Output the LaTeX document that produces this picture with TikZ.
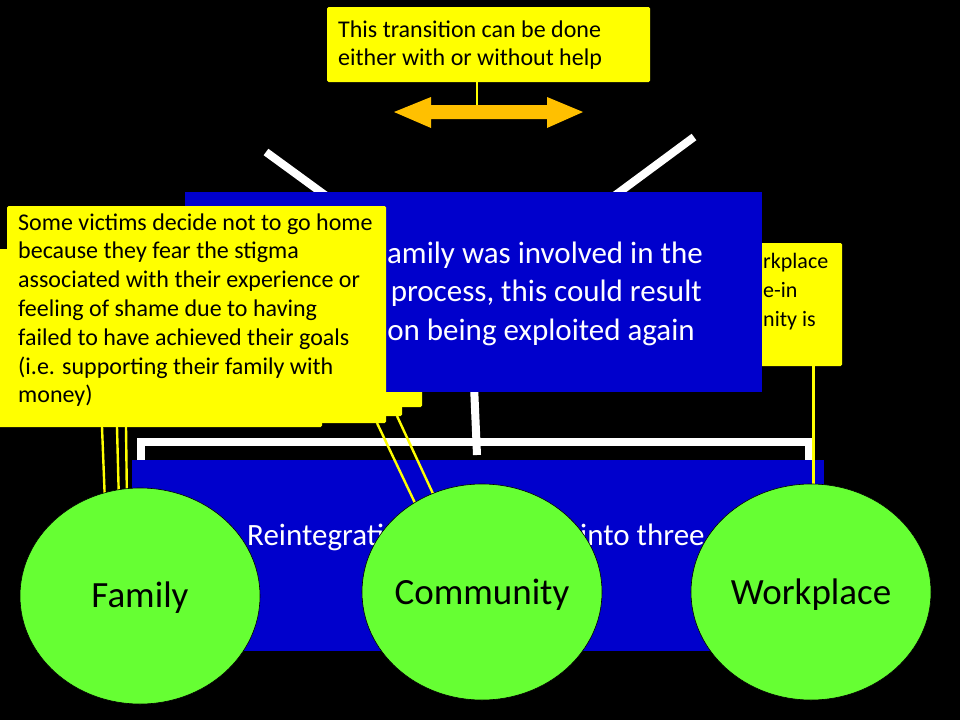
\documentclass[tikz,border=0pt]{standalone}
\usepackage{fontspec}
\setmainfont{Carlito}
\usetikzlibrary{shapes.geometric}
\definecolor{sblue}{RGB}{0,0,204}
\definecolor{syellow}{RGB}{255,255,0}
\definecolor{sgreen}{RGB}{102,255,51}
\definecolor{sorange}{RGB}{255,192,0}
\newcommand{\ellipsetext}[2]{\raisebox{#1}[0pt][0pt]{\makebox[0pt]{#2}}}
\begin{document}
\begin{tikzpicture}[x=1pt,y=-1pt,
  ycallout/.style={fill=syellow, draw=none, rounded corners=1.5pt, anchor=north west, inner sep=0pt, outer sep=0pt},
  bluebox/.style={fill=sblue, draw=none, anchor=north west, inner sep=0pt, outer sep=0pt},
  calltext/.style={anchor=base west, inner sep=0pt, font=\fontsize{24}{28.8}\selectfont, text=black},
  smalltext/.style={anchor=base west, inner sep=0pt, font=\fontsize{22}{28}\selectfont, text=black},
  bluetext/.style={inner sep=0pt, font=\fontsize{31}{37}\selectfont, text=white},
  regionellipse/.style={ellipse, fill=sgreen, draw=black, line width=0.6pt, minimum width=240pt, minimum height=216pt, inner sep=0pt, font=\fontsize{37}{40}\selectfont},
  whitebranch/.style={draw=white, line width=8pt},
  leaderline/.style={draw=syellow, line width=2.4pt},
]
\useasboundingbox (0,0) rectangle (960,720);
\fill[black] (0,0) rectangle (960,720);

% white tree branches (behind the boxes)
\coordinate (dl1) at (266,152);
\coordinate (dl2) at (340,206);
\coordinate (dr1) at (694,137);
\coordinate (dr2) at (602,205);
\coordinate (mv1) at (474,385);
\coordinate (mv2) at (477,455);
\draw[whitebranch] (dl1) -- (dl2);
\draw[whitebranch] (dr1) -- (dr2);
\draw[whitebranch] (mv1) -- (mv2);
\coordinate (bl) at (140.5,460);
\coordinate (br) at (809,460);
\draw[whitebranch] (bl) -- (140.5,442) -- (809,442) -- (br);

% right callout (behind the middle blue box)
\node[ycallout, minimum width=142pt, minimum height=123pt] (R) at (700,243) {};
\node[smalltext] (r1) at (763,268) {rkplace};
\node[smalltext] (r2) at (763,297) {e-in};
\node[smalltext] (r3) at (763,326) {nity is};

% stacked callouts behind
\node[ycallout, minimum width=122pt, minimum height=107pt] (B) at (300,300) {};
\node[ycallout, minimum width=102pt, minimum height=116pt] (C) at (300,300) {};

% middle blue box
\node[bluebox, minimum width=577pt, minimum height=200pt] (mid) at (185,192) {};
\node[bluetext, anchor=base east] (m1) at (703,263) {amily was involved in the};
\node[bluetext, anchor=base east] (m2) at (702,301.5) {process, this could result};
\node[bluetext, anchor=base east] (m3) at (695,340) {on being exploited again};

% left callouts
\node[ycallout, minimum width=326pt, minimum height=178pt] (A) at (-4,249) {};
\node[ycallout, minimum width=379pt, minimum height=217pt] (M) at (7,206) {};
\foreach \t [count=\i] in {{Some victims decide not to go home},
  {because they fear the stigma},
  {associated with their experience or},
  {feeling of shame due to having},
  {failed to have achieved their goals},
  {(i.e. supporting their family with},
  {money)}}
  \node[calltext] (lt\i) at (18,{230+(\i-1)*28.8}) {\t};

% bottom blue box
\node[bluebox, minimum width=692pt, minimum height=191pt] (bot) at (132,460) {};
\node[bluetext, anchor=base west] (b1) at (247,545) {Reintegrati};
\node[bluetext, anchor=base west] (b2) at (580,545) {into three};

% leader lines
\coordinate (fa1) at (102,427); \coordinate (fb1) at (105,503);
\coordinate (fa2) at (117,427); \coordinate (fb2) at (119,503);
\coordinate (fa3) at (126,427); \coordinate (fb3) at (127,503);
\coordinate (ca1) at (377,423); \coordinate (cb1) at (415,503);
\coordinate (ca2) at (397,416); \coordinate (cb2) at (435,498);
\coordinate (wa1) at (813.5,366); \coordinate (wb1) at (813.5,488);
\draw[leaderline] (fa1) -- (fb1);
\draw[leaderline] (fa2) -- (fb2);
\draw[leaderline] (fa3) -- (fb3);
\draw[leaderline] (ca1) -- (cb1);
\draw[leaderline] (ca2) -- (cb2);
\draw[leaderline] (wa1) -- (wb1);

% ellipses
\node[regionellipse] (family) at (140,596) {\ellipsetext{-11.5pt}{Family}};
\node[regionellipse] (community) at (482,592) {\ellipsetext{-12pt}{Community}};
\node[regionellipse] (workplace) at (811,592) {\ellipsetext{-12pt}{Workplace}};

% top callout and double arrow
\node[ycallout, minimum width=323pt, minimum height=75pt] (T) at (327,7) {};
\node[calltext] (t1) at (338,37) {This transition can be done};
\node[calltext] (t2) at (338,65.8) {either with or without help};
\coordinate (ta) at (477,82);
\coordinate (tb) at (477,106);
\draw[leaderline] (ta) -- (tb);
\fill[sorange] (394,112) -- (431,97) -- (431,105) -- (547,105) -- (547,97) -- (583,112)
  -- (547,128) -- (547,119) -- (431,119) -- (431,128) -- cycle;
\end{tikzpicture}
\end{document}
